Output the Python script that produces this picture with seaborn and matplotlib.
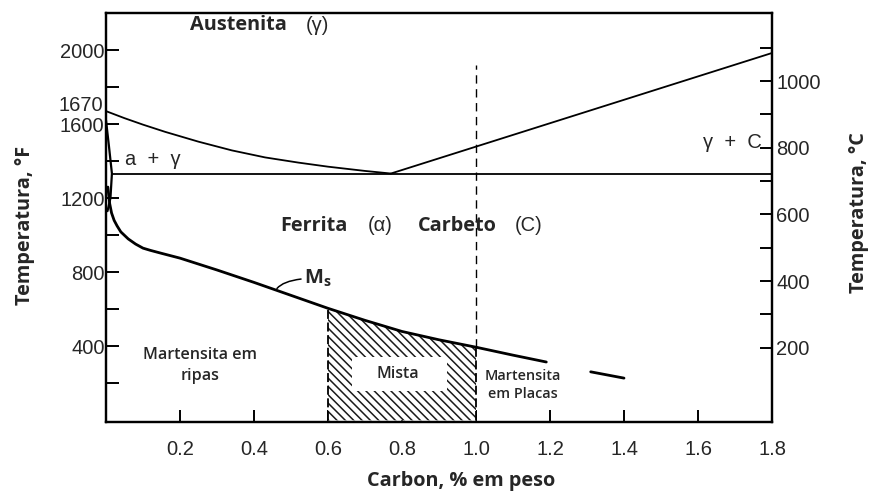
import matplotlib
matplotlib.use("Agg")
import matplotlib.pyplot as plt
import seaborn as sns
import pandas as pd
from matplotlib.patches import Rectangle
from matplotlib.transforms import blended_transform_factory

# ---- data: carbon content (wt %) vs temperature (°F) ----
a3_carbon = [0.0, 0.05, 0.1, 0.16, 0.25, 0.34, 0.43, 0.52, 0.6, 0.7, 0.77]
a3_temp_f = [1670, 1632, 1597, 1558, 1505, 1458, 1420, 1392, 1370, 1347, 1333]
acm_carbon = [0.77, 1.8]
acm_temp_f = [1333, 1984]
a1_carbon = [0.02, 1.8]
a1_temp_f = [1333, 1333]
ferrite_carbon = [0.0, 0.008, 0.016, 0.012, 0.004]
ferrite_temp_f = [1620, 1480, 1333, 1200, 1130]
ms_carbon = [0.005, 0.01, 0.015, 0.022, 0.03, 0.04, 0.06, 0.08, 0.1, 0.12,
             0.15, 0.2, 0.3, 0.4, 0.5, 0.6, 0.7, 0.8, 0.9, 1.0, 1.1, 1.19]
ms_temp_f = [1260, 1170, 1120, 1080, 1050, 1018, 980, 952, 930, 918,
             902, 876, 812, 745, 675, 605, 540, 480, 435, 395, 352, 315]
ms_ext_carbon = [1.31, 1.40]
ms_ext_temp_f = [262, 228]
mixed_lo, mixed_hi = 0.6, 1.0
plate_line_top_f = 1920

x_ticks = [0.2, 0.4, 0.6, 0.8, 1.0, 1.2, 1.4, 1.6, 1.8]
f_major = [400, 800, 1200, 1600, 2000]
f_minor = [200, 600, 1000, 1400, 1800]
c_major = [200, 400, 600, 800, 1000]
c_minor = [300, 500, 700, 900, 1100]
f_lim = (-9, 2200)

sns.set_theme(style="ticks")
plt.rcParams["font.family"] = ["Liberation Sans", "DejaVu Sans"]
plt.rcParams["mathtext.fontset"] = "custom"
plt.rcParams["mathtext.bf"] = "Open Sans:bold"
plt.rcParams["mathtext.rm"] = "Open Sans"
plt.rcParams["hatch.linewidth"] = 1.1

BOLD = ["Open Sans", "DejaVu Sans"]
TICK_SIZE = 14.5
LABEL_SIZE = 14.3

fig = plt.figure(figsize=(8.72, 4.95), dpi=100)
ax = fig.add_axes([106 / 872, 1 - 422 / 495, 666 / 872, 409 / 495])

def curve(xs, ys, lw=1.3, **kw):
    df = pd.DataFrame({"c": xs, "t": ys})
    sns.lineplot(data=df, x="c", y="t", ax=ax, color="black", lw=lw,
                 sort=False, estimator=None, **kw)

curve(a3_carbon, a3_temp_f)
curve(acm_carbon, acm_temp_f)
curve(a1_carbon, a1_temp_f)
curve(ferrite_carbon, ferrite_temp_f, lw=1.6)
curve(ms_carbon, ms_temp_f, lw=2.0)
curve(ms_ext_carbon, ms_ext_temp_f, lw=2.0)

# hatched "mixed" martensite region under the Ms curve
mix = pd.DataFrame({"c": ms_carbon, "t": ms_temp_f})
mix = mix[(mix.c >= mixed_lo) & (mix.c <= mixed_hi)]
ax.fill_between(mix.c, 0, mix.t, facecolor="white", edgecolor="#1a1a1a",
                hatch="\\\\\\\\", lw=0)
ax.vlines([mixed_lo, mixed_hi], 0, [mix.t.iloc[0], mix.t.iloc[-1]],
          colors="black", lw=1.3, linestyles=(0, (5, 2)))

# dashed boundary at 1 % C above the Ms curve
ax.vlines(mixed_hi, mix.t.iloc[-1], plate_line_top_f, colors="black",
          lw=1.0, linestyles=(0, (6, 4)))

# white label box inside the hatch
ax.add_patch(Rectangle((0.664, 158), 0.257, 183, facecolor="white",
                       edgecolor="none", zorder=3))
ax.text(0.79, 250, "Mista", ha="center", va="center", fontsize=11.5,
        family=BOLD, fontweight="semibold", zorder=4)

ax.set_xlim(0, 1.8)
ax.set_ylim(*f_lim)
ax.set_xticks(x_ticks)
ax.set_xticklabels([f"{v:.1f}" for v in x_ticks])
ax.set_yticks(f_major)
ax.set_yticks(f_minor, minor=True)
ax.set_yticklabels([str(v) for v in f_major])
ax.tick_params(axis="both", which="both", direction="in", length=9,
               width=1.4, labelsize=TICK_SIZE, color="black")
ax.tick_params(axis="x", pad=13)
ax.tick_params(axis="y", pad=1)
ax.set_xlabel("")
ax.set_ylabel("")

tr = blended_transform_factory(ax.transAxes, ax.transData)
ax.text(-0.004, 1700, "1670", transform=tr, ha="right", va="center",
        fontsize=TICK_SIZE)

ax2 = ax.twinx()
ax2.set_ylim((f_lim[0] - 32) * 5 / 9, (f_lim[1] - 32) * 5 / 9)
ax2.set_yticks(c_major)
ax2.set_yticks(c_minor, minor=True)
ax2.set_yticklabels([str(v) for v in c_major])
ax2.tick_params(axis="y", which="both", direction="in", length=9,
                width=1.4, labelsize=TICK_SIZE, pad=3, color="black")

for a in (ax, ax2):
    for s in a.spines.values():
        s.set_visible(True)
        s.set_color("black")
        s.set_linewidth(1.6)

# axis titles
ax.text(0.533, -0.145, "Carbon, % em peso", transform=ax.transAxes,
        ha="center", va="center", fontsize=LABEL_SIZE, fontweight="bold",
        family=BOLD)
ax.text(-0.122, 0.48, "Temperatura, °F", transform=ax.transAxes,
        ha="center", va="center", rotation=90, fontsize=LABEL_SIZE,
        fontweight="bold", family=BOLD)
ax.text(1.131, 0.512, "Temperatura, °C", transform=ax.transAxes,
        ha="center", va="center", rotation=90, fontsize=LABEL_SIZE,
        fontweight="bold", family=BOLD)

# phase field labels
ax.text(0.226, 2135, "Austenita", ha="left", va="center", fontsize=LABEL_SIZE,
        fontweight="bold", family=BOLD)
ax.text(0.572, 2135, "(γ)", ha="center", va="center", fontsize=14.5)
ax.text(0.05, 1408, "a  +  γ", ha="left", va="center", fontsize=TICK_SIZE)
ax.text(1.772, 1500, "γ  +  C", ha="right", va="center", fontsize=TICK_SIZE)
ax.text(0.47, 1052, "Ferrita", ha="left", va="center", fontsize=LABEL_SIZE,
        fontweight="bold", family=BOLD)
ax.text(0.74, 1052, "(α)", ha="center", va="center", fontsize=14.5)
ax.text(0.842, 1052, "Carbeto", ha="left", va="center", fontsize=LABEL_SIZE,
        fontweight="bold", family=BOLD)
ax.text(1.142, 1052, "(C)", ha="center", va="center", fontsize=14.5)
ax.text(0.253, 297, "Martensita em\nripas", ha="center", va="center",
        fontsize=11.6, fontweight="semibold", family=BOLD, linespacing=1.45)
ax.text(1.126, 190, "Martensita\nem Placas", ha="center", va="center",
        fontsize=10.4, fontweight="semibold", family=BOLD, linespacing=1.4)

# Ms label with leader
ax.annotate(r"$\mathbf{M_s}$", xy=(0.462, 712), xytext=(0.536, 768),
            ha="left", va="center", fontsize=14.5,
            arrowprops=dict(arrowstyle="-", color="black", lw=1.1,
                            shrinkA=0, shrinkB=0,
                            connectionstyle="angle3,angleA=0,angleB=50"))

fig.savefig("out.png", dpi=100)
